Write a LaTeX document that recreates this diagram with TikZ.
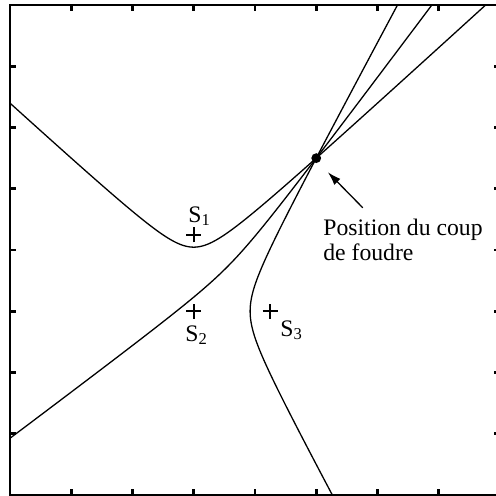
\documentclass[tikz,border=0pt]{standalone}
\usepackage{fontspec}
\setmainfont{Liberation Serif}
\usepackage{tikz}
\usetikzlibrary{arrows.meta, shapes.misc}

\begin{document}
\begin{tikzpicture}[
    >={Latex[length=2.2mm, width=1.4mm]},
    frame/.style={line width=1.2pt},
    hyp/.style={line width=0.6pt, samples=200, variable=\t},
    sensor/.style={cross out, draw, rotate=45, line width=1pt, minimum size=0.14cm, inner sep=0pt},
    lbl/.style={anchor=base west, inner sep=0pt, font=\fontsize{11}{11.6}\selectfont},
]
    \useasboundingbox (-0.163,-0.016) rectangle (7.935,8.082);

    % frame and ticks
    \draw[frame] (0,0) rectangle (8,8);
    \foreach \i in {1,...,7} {
        \draw[frame] (\i,0) -- (\i,0.1);
        \draw[frame] (\i,8) -- (\i,7.9);
        \draw[frame] (0,\i) -- (0.1,\i);
        \draw[frame] (8,\i) -- (7.9,\i);
    }

    % hyperbolas
    \begin{scope}
        \clip (0,0) rectangle (8,8);
        % S1-S2
        \draw[hyp, domain=-2.7:3.15] plot ({3+0.4614*sinh(\t)}, {3.625+0.4216*cosh(\t)});
        % S1-S3
        \draw[hyp, domain=-2.45:2.65] plot ({3.625+0.7071*(-0.1258*cosh(\t)+0.8749*sinh(\t))}, {3.625+0.7071*(0.1258*cosh(\t)+0.8749*sinh(\t))});
        % S2-S3
        \draw[hyp, domain=-2.5:3.0] plot ({3.625+0.2957*cosh(\t)}, {3+0.5506*sinh(\t)});
    \end{scope}

    % sensors
    \node[sensor] (s1) at (3,4.25) {};
    \node[sensor] (s2) at (3,3) {};
    \node[sensor] (s3) at (4.25,3) {};
    \node[lbl] (s1lbl) at (2.906,4.457) {S\textsubscript{1}};
    \node[lbl] (s2lbl) at (2.857,2.514) {S\textsubscript{2}};
    \node[lbl] (s3lbl) at (4.408,2.596) {S\textsubscript{3}};

    % strike
    \node[circle, fill, inner sep=0pt, minimum size=0.16cm] (strike) at (5,5.5) {};
    \node[lbl, align=left] (strikelbl) at (5.11,3.837) {Position du coup\\de foudre};
    \coordinate (arrowtail) at (5.76,4.69);
    \coordinate (arrowtip) at (5.19,5.27);
    \draw[->, line width=0.6pt] (arrowtail) -- (arrowtip);
\end{tikzpicture}
\end{document}
